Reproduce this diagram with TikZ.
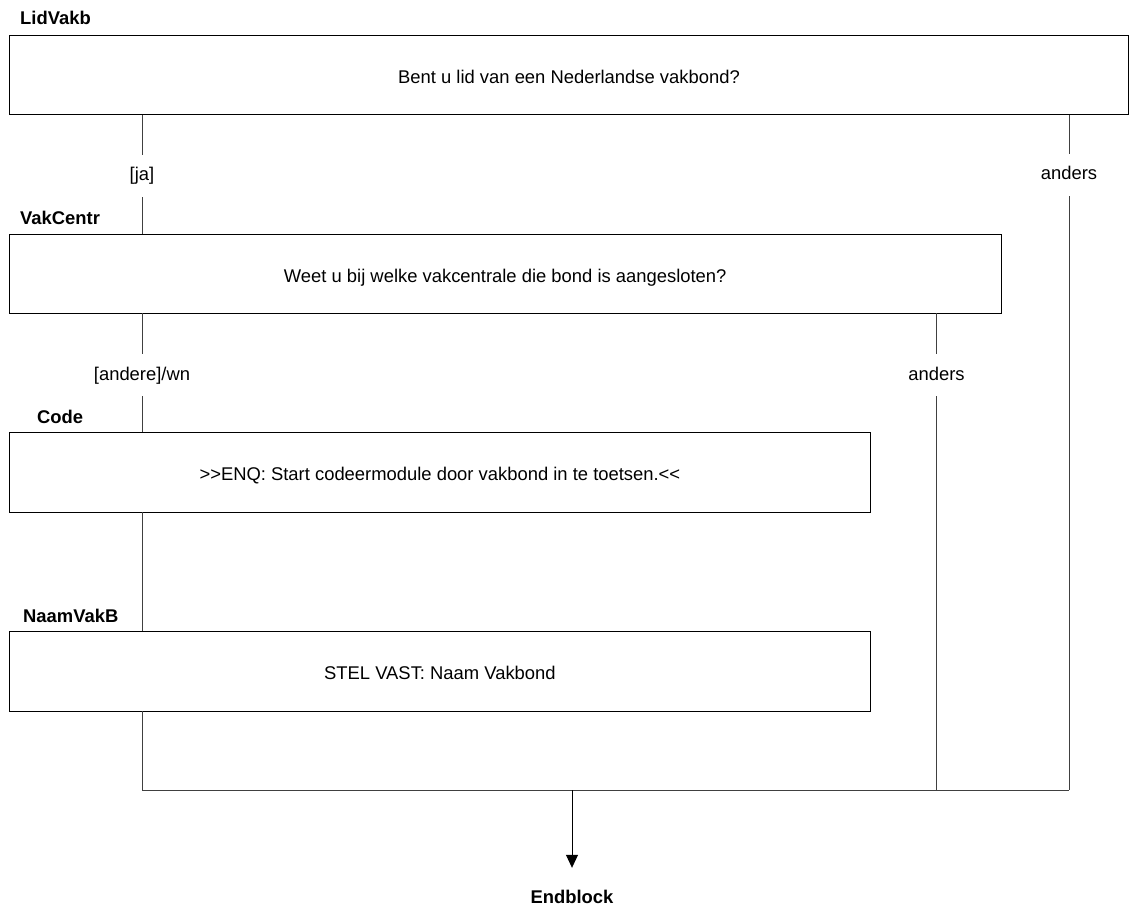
\documentclass[tikz,border=0pt]{standalone}
\usepackage{fontspec}
\setmainfont{Liberation Sans}[Ligatures=NoCommon]
\usetikzlibrary{arrows.meta}
\begin{document}
\begin{tikzpicture}[x=1pt,y=-1pt,
  txt/.style={font=\fontsize{18.4}{22}\selectfont},
  qbox/.style={txt, draw=black, line width=0.8pt, inner sep=0pt, text height=17pt, text depth=0pt},
  ttl/.style={txt, font=\fontsize{18.4}{22}\selectfont\bfseries, anchor=base west, inner sep=0pt},
  brlabel/.style={txt, anchor=base, inner xsep=2pt, inner ysep=12pt, text height=14pt, text depth=4pt},
  conn/.style={draw=black!75, line width=0.8pt},
  endlbl/.style={font=\fontsize{18.4}{22}\selectfont\bfseries, anchor=base, inner xsep=2pt, inner ysep=21pt, text height=14pt, text depth=0pt}]
\useasboundingbox (0,0) rectangle (1129,909);

% boxes
\node[qbox, minimum width=1119pt, minimum height=79pt] (q1) at (569,74.7) {Bent u lid van een Nederlandse vakbond?};
\node[qbox, minimum width=992pt, minimum height=79pt] (q2) at (505.2,273.5) {Weet u bij welke vakcentrale die bond is aangesloten?};
\node[qbox, minimum width=861pt, minimum height=80pt] (q3) at (439.9,472) {{>}{>}ENQ: Start codeermodule door vakbond in te toetsen.{<}{<}};
\node[qbox, minimum width=861pt, minimum height=80pt] (q4) at (439.9,671) {STEL VAST: Naam Vakbond};

% titles
\node[ttl] (t1) at (20,25) {LidVakb};
\node[ttl] (t2) at (20,225) {VakCentr};
\node[ttl] (t3) at (37,423) {Code};
\node[ttl] (t4) at (23,622) {NaamVakB};

% branch labels
\node[brlabel] (ja) at (142,181) {[ja]};
\node[brlabel] (an1) at (1069,180) {anders};
\node[brlabel] (aw) at (142,380) {[andere]/wn};
\node[brlabel] (an2) at (936.5,380) {anders};

% join coordinates
\coordinate (jl) at (142,790);
\coordinate (jr) at (1069,790);
\coordinate (jm) at (572,790);

\node[endlbl] (end) at (572,903) {Endblock};

% connectors
\draw[conn] (q1.south -| ja) -- (ja) -- (q2.north -| ja);
\draw[conn] (q1.south -| an1) -- (an1) -- (jr);
\draw[conn] (q2.south -| aw) -- (aw) -- (q3.north -| aw);
\draw[conn] (q2.south -| an2) -- (an2) -- (an2 |- jl);
\draw[conn] (q3.south -| aw) -- (q4.north -| aw);
\draw[conn] (q4.south -| aw) -- (jl) -- (jr);
\draw[conn, draw=black, -{Triangle[length=13pt,width=12pt]}] (jm) -- (end);
\end{tikzpicture}
\end{document}
